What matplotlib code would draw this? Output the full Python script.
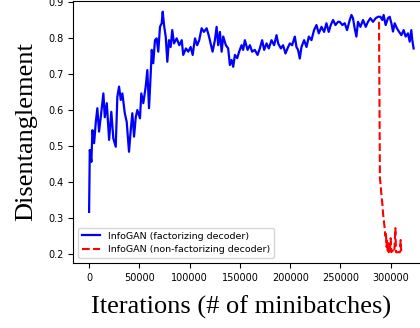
import matplotlib
matplotlib.use('Agg')
import matplotlib.pyplot as plt

# blue run: factorizing decoder (iteration, disentanglement)
it_fact = [0, 700, 2300, 3300, 5000, 6700, 8200, 9900, 11600, 14200, 15600, 17600,
           19900, 22100, 24100, 26500, 28100, 29800, 31500, 33100, 35500, 37400,
           39700, 41400, 43000, 44700, 46400, 48000, 50600, 51900, 53900, 56300,
           57900, 59600, 61300, 62300, 63800, 65500, 67200, 68800, 70500, 72200,
           73200, 74500, 76200, 77800, 79400, 81100, 82700, 84400, 87100, 89700,
           92100, 93600, 96300, 98600, 101000, 103000, 105300, 107500, 109500,
           111900, 114200, 116900, 118900, 120800, 122800, 125100, 126800, 128400,
           130100, 131800, 133400, 136000, 138300, 140000, 141700, 143300, 145000,
           147300, 149200, 151600, 153200, 154900, 157600, 159900, 162200, 164800,
           167500, 169800, 172100, 174100, 176500, 178700, 181400, 184000, 186400,
           188000, 190700, 192900, 195300, 197300, 199600, 201900, 204600, 206200,
           207800, 209500, 211200, 213800, 216200, 218500, 221100, 223700, 226100,
           228400, 231100, 233700, 236000, 238300, 240300, 242600, 245000, 247600,
           249200, 251900, 254200, 256500, 259200, 260900, 262400, 264100, 265800,
           267400, 269800, 272400, 275100, 277300, 279700, 282300, 285000, 287300,
           289700, 291600, 292900, 294900, 297200, 298900, 300600, 302200, 303900,
           306100, 308100, 310500, 312800, 314800, 317100, 318800, 320400, 321400,
           322700]
val_fact = [0.317, 0.489, 0.456, 0.544, 0.508, 0.567, 0.605, 0.540, 0.580, 0.646, 0.580, 0.619,
            0.517, 0.595, 0.521, 0.498, 0.637, 0.665, 0.628, 0.646, 0.591, 0.567,
            0.484, 0.544, 0.591, 0.526, 0.580, 0.600, 0.577, 0.646, 0.619, 0.665,
            0.711, 0.605, 0.702, 0.767, 0.730, 0.794, 0.799, 0.762, 0.831, 0.841,
            0.873, 0.836, 0.804, 0.734, 0.794, 0.775, 0.822, 0.785, 0.799, 0.780,
            0.794, 0.753, 0.771, 0.762, 0.775, 0.753, 0.799, 0.780, 0.794,
            0.827, 0.817, 0.827, 0.808, 0.785, 0.762, 0.794, 0.831, 0.780,
            0.817, 0.762, 0.804, 0.780, 0.771, 0.725, 0.739, 0.720, 0.753,
            0.744, 0.762, 0.780, 0.767, 0.794, 0.767, 0.780, 0.762, 0.767,
            0.753, 0.771, 0.794, 0.767, 0.785, 0.771, 0.794, 0.780, 0.808,
            0.785, 0.771, 0.780, 0.757, 0.771, 0.785, 0.780, 0.804, 0.775,
            0.767, 0.743, 0.775, 0.794, 0.775, 0.804, 0.794, 0.822, 0.836,
            0.813, 0.831, 0.817, 0.841, 0.817, 0.836, 0.850, 0.836, 0.845,
            0.845, 0.836, 0.841, 0.822, 0.850, 0.864, 0.855, 0.827, 0.804,
            0.845, 0.831, 0.850, 0.831, 0.845, 0.855, 0.845, 0.855, 0.859,
            0.859, 0.850, 0.864, 0.836, 0.855, 0.859, 0.841, 0.818, 0.841,
            0.827, 0.818, 0.808, 0.822, 0.804, 0.813, 0.790, 0.822, 0.794,
            0.771]

# red run: non-factorizing decoder
it_nonfact = [288300, 289200, 290000, 290800, 291600, 292400, 293200, 294000, 294600,
              295200, 295700, 296300, 296800, 297400, 298000, 298600, 299200, 299900,
              300500, 301500, 302500, 303500, 304600, 305200, 307000, 309000, 309800,
              310400, 311100]
val_nonfact = [0.845, 0.410, 0.390, 0.360, 0.340, 0.310, 0.290, 0.270, 0.250,
               0.260, 0.220, 0.240, 0.210, 0.230, 0.205, 0.220, 0.210, 0.244,
               0.205, 0.210, 0.205, 0.205, 0.272, 0.205, 0.205, 0.205, 0.239,
               0.205, 0.205]

fig = plt.figure(figsize=(4.2, 3.28), dpi=100)
ax = fig.add_axes([73/420, 65/328, 357/420, 0.799])

ax.plot(it_fact, val_fact, 'b-', lw=1.6, label='InfoGAN (factorizing decoder)')
ax.plot(it_nonfact, val_nonfact, 'r--', lw=1.5, label='InfoGAN (non-factorizing decoder)')

ax.set_xlim(-16000, 339000)
ax.set_ylim(0.175, 0.903)
ax.set_xticks([0, 50000, 100000, 150000, 200000, 250000, 300000])
ax.set_yticks([0.2, 0.3, 0.4, 0.5, 0.6, 0.7, 0.8, 0.9])
ax.tick_params(labelsize=7)

ax.set_xlabel('Iterations (# of minibatches)', fontsize=19, family='Liberation Serif')
ax.xaxis.set_label_coords(0.47, -0.125)
ax.set_ylabel('Disentanglement', fontsize=19, family='Liberation Serif', labelpad=8)

ax.legend(loc='lower left', fontsize=6.8)

fig.savefig('out.png', dpi=100)
